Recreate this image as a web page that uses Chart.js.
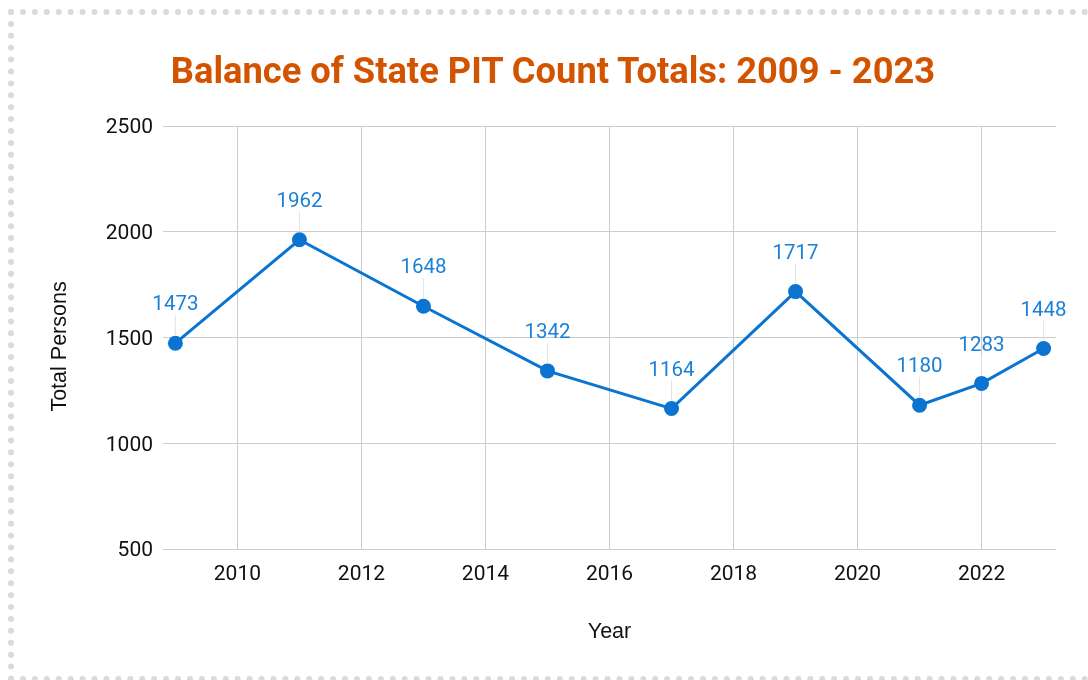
<!DOCTYPE html>
<html lang="en">
<head>
  <meta charset="UTF-8" />
  <title>Balance of State PIT Count Totals</title>
  <script src="https://cdn.jsdelivr.net/npm/chart.js"></script>
  <style>
    html, body {
      margin: 0;
      padding: 0;
      width: 1088px;
      height: 680px;
      overflow: hidden;
      background: #fff;
    }
    .frame {
      position: absolute;
      left: 8px;
      top: 9px;
      width: 1200px;
      height: 673px;
      box-sizing: border-box;
      border: 6px dotted #dadada;
      pointer-events: none;
    }
    .chart-title {
      position: absolute;
      left: 0;
      top: 49px;
      width: 1106px;
      text-align: center;
      font-family: Roboto, sans-serif;
      font-weight: bold;
      font-size: 36.3px;
      line-height: 44px;
      color: #d35400;
      margin: 0;
    }
    #wrap {
      position: absolute;
      left: 0;
      top: 0;
      width: 1088px;
      height: 680px;
    }
  </style>
</head>
<body>

<div id="wrap"><canvas id="pitChart"></canvas></div>
<div class="frame"></div>
<h1 class="chart-title">Balance of State PIT Count Totals: 2009 - 2023</h1>

<script>
  const years = [2009, 2011, 2013, 2015, 2017, 2019, 2021, 2022, 2023];
  const totals = [1473, 1962, 1648, 1342, 1164, 1717, 1180, 1283, 1448];
  const yTicks = [500, 1000, 1500, 2000, 2500];
  const xTicks = [2010, 2012, 2014, 2016, 2018, 2020, 2022];

  const lineBlue = '#0b74d1';
  const labelBlue = '#1a80d8';

  // value labels above each point, with a thin leader line
  const pointLabels = {
    id: 'pointLabels',
    afterDatasetsDraw(chart) {
      const ctx = chart.ctx;
      const meta = chart.getDatasetMeta(0);
      ctx.save();
      meta.data.forEach((pt, i) => {
        ctx.strokeStyle = '#e3e3e3';
        ctx.lineWidth = 1;
        ctx.beginPath();
        ctx.moveTo(pt.x, pt.y - 8);
        ctx.lineTo(pt.x, pt.y - 28);
        ctx.stroke();
        ctx.fillStyle = labelBlue;
        ctx.font = '20.5px Roboto';
        ctx.textAlign = 'center';
        ctx.textBaseline = 'middle';
        ctx.fillText(String(totals[i]), pt.x, pt.y - 38);
      });
      ctx.restore();
    }
  };

  new Chart(document.getElementById('pitChart'), {
    type: 'line',
    data: {
      datasets: [{
        data: years.map((y, i) => ({ x: y, y: totals[i] })),
        borderColor: lineBlue,
        backgroundColor: lineBlue,
        borderWidth: 3,
        pointRadius: 7.5,
        pointHoverRadius: 7.5,
        pointBackgroundColor: lineBlue,
        pointBorderWidth: 0,
        tension: 0,
        fill: false
      }]
    },
    options: {
      responsive: true,
      maintainAspectRatio: false,
      animation: false,
      layout: { padding: { top: 126, right: 32, bottom: 0, left: 0 } },
      plugins: {
        legend: { display: false },
        tooltip: { enabled: false }
      },
      scales: {
        x: {
          type: 'linear',
          min: 2008.8,
          max: 2023.2,
          afterFit: (s) => { s.height = 131; },
          afterBuildTicks: (s) => { s.ticks = xTicks.map(v => ({ value: v })); },
          border: { display: false },
          grid: { color: '#cccccc', lineWidth: 1, drawTicks: false },
          ticks: {
            padding: 13,
            color: '#111',
            font: { family: 'Roboto', size: 21 },
            callback: (v) => String(v)
          },
          title: {
            display: true,
            text: 'Year',
            color: '#111',
            font: { family: 'Liberation Sans', size: 21.5 },
            padding: { top: 0, bottom: 35 }
          }
        },
        y: {
          min: 500,
          max: 2500,
          afterFit: (s) => { s.width = 163; },
          afterBuildTicks: (s) => { s.ticks = yTicks.map(v => ({ value: v })); },
          border: { display: false },
          grid: { color: '#cccccc', lineWidth: 1, drawTicks: false },
          ticks: {
            padding: 10,
            labelOffset: 2,
            color: '#111',
            font: { family: 'Roboto', size: 21 },
            callback: (v) => String(v)
          },
          title: {
            display: true,
            // trailing spaces nudge the rotated title a little lower
            text: 'Total Persons   ',
            color: '#111',
            font: { family: 'Liberation Sans', size: 21.5 },
            padding: { top: 47, bottom: 0 }
          }
        }
      }
    },
    plugins: [pointLabels]
  });
</script>

</body>
</html>
